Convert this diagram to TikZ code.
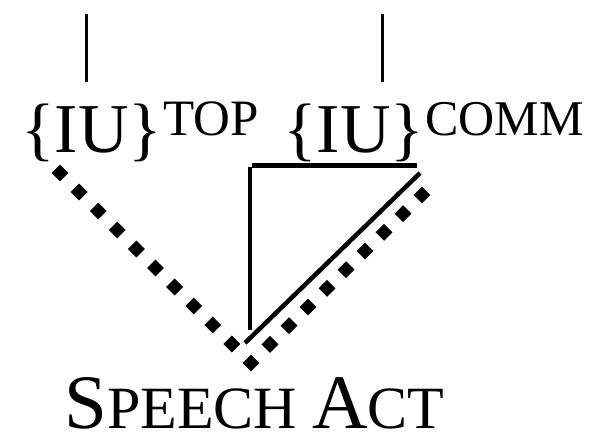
\documentclass[tikz,border=0pt]{standalone}
\usepackage{fontspec}
\setmainfont{Liberation Serif}
\usetikzlibrary{calc,shapes.geometric}
\tikzset{
  big/.style={anchor=base west,inner sep=0pt,font=\fontsize{70}{70}\selectfont},
  sup/.style={anchor=base west,inner sep=0pt,font=\fontsize{51}{51}\selectfont},
  solid line/.style={line width=4.5pt},
  stem/.style={line width=3pt},
  dot/.style={diamond,fill=black,inner sep=0pt,minimum width=17pt,minimum height=17pt}
}
\begin{document}
\begin{tikzpicture}[x=1pt,y=-1pt]
\useasboundingbox (0,0) rectangle (591,431);
% texts
\node[big] (iu1) at (21,152) {\{IU\}};
\node[sup] (top) at (163,135) {TOP};
\node[big] (iu2) at (283,152) {\{IU\}};
\node[sup,font=\fontsize{50}{50}\selectfont] (comm) at (425,135) {COMM};
\node[anchor=base west,inner sep=0pt] (sa) at (64,428)
  {\fontsize{77}{77}\selectfont S\fontsize{60}{60}\selectfont PEECH
   \fontsize{77}{77}\selectfont A\fontsize{60}{60}\selectfont CT};
% stems
\coordinate (s1t) at (86,14);
\coordinate (s1b) at (86,82);
\coordinate (s2t) at (382,14);
\coordinate (s2b) at (382,82);
\draw[stem] (s1t) -- (s1b);
\draw[stem] (s2t) -- (s2b);
% solid triangle
\coordinate (h1) at (252,165.5);
\coordinate (h2) at (417,165.5);
\coordinate (v1) at (250,167);
\coordinate (v2) at (250,330);
\coordinate (d1) at (420,173);
\coordinate (d2) at (245,343);
\draw[solid line] (h1) -- (h2);
\draw[solid line] (v1) -- (v2);
\draw[solid line] (d1) -- (d2);
% dotted lines
\coordinate (L1) at (60,173);
\coordinate (L2) at (251,363);
\coordinate (R1) at (422,195);
\coordinate (R2) at (251,363);
\foreach \i in {0,...,10} \node[dot] at ($(L1)!\i/10!(L2)$) {};
\foreach \i in {0,...,8} \node[dot] at ($(R1)!\i/9!(R2)$) {};
\end{tikzpicture}
\end{document}
